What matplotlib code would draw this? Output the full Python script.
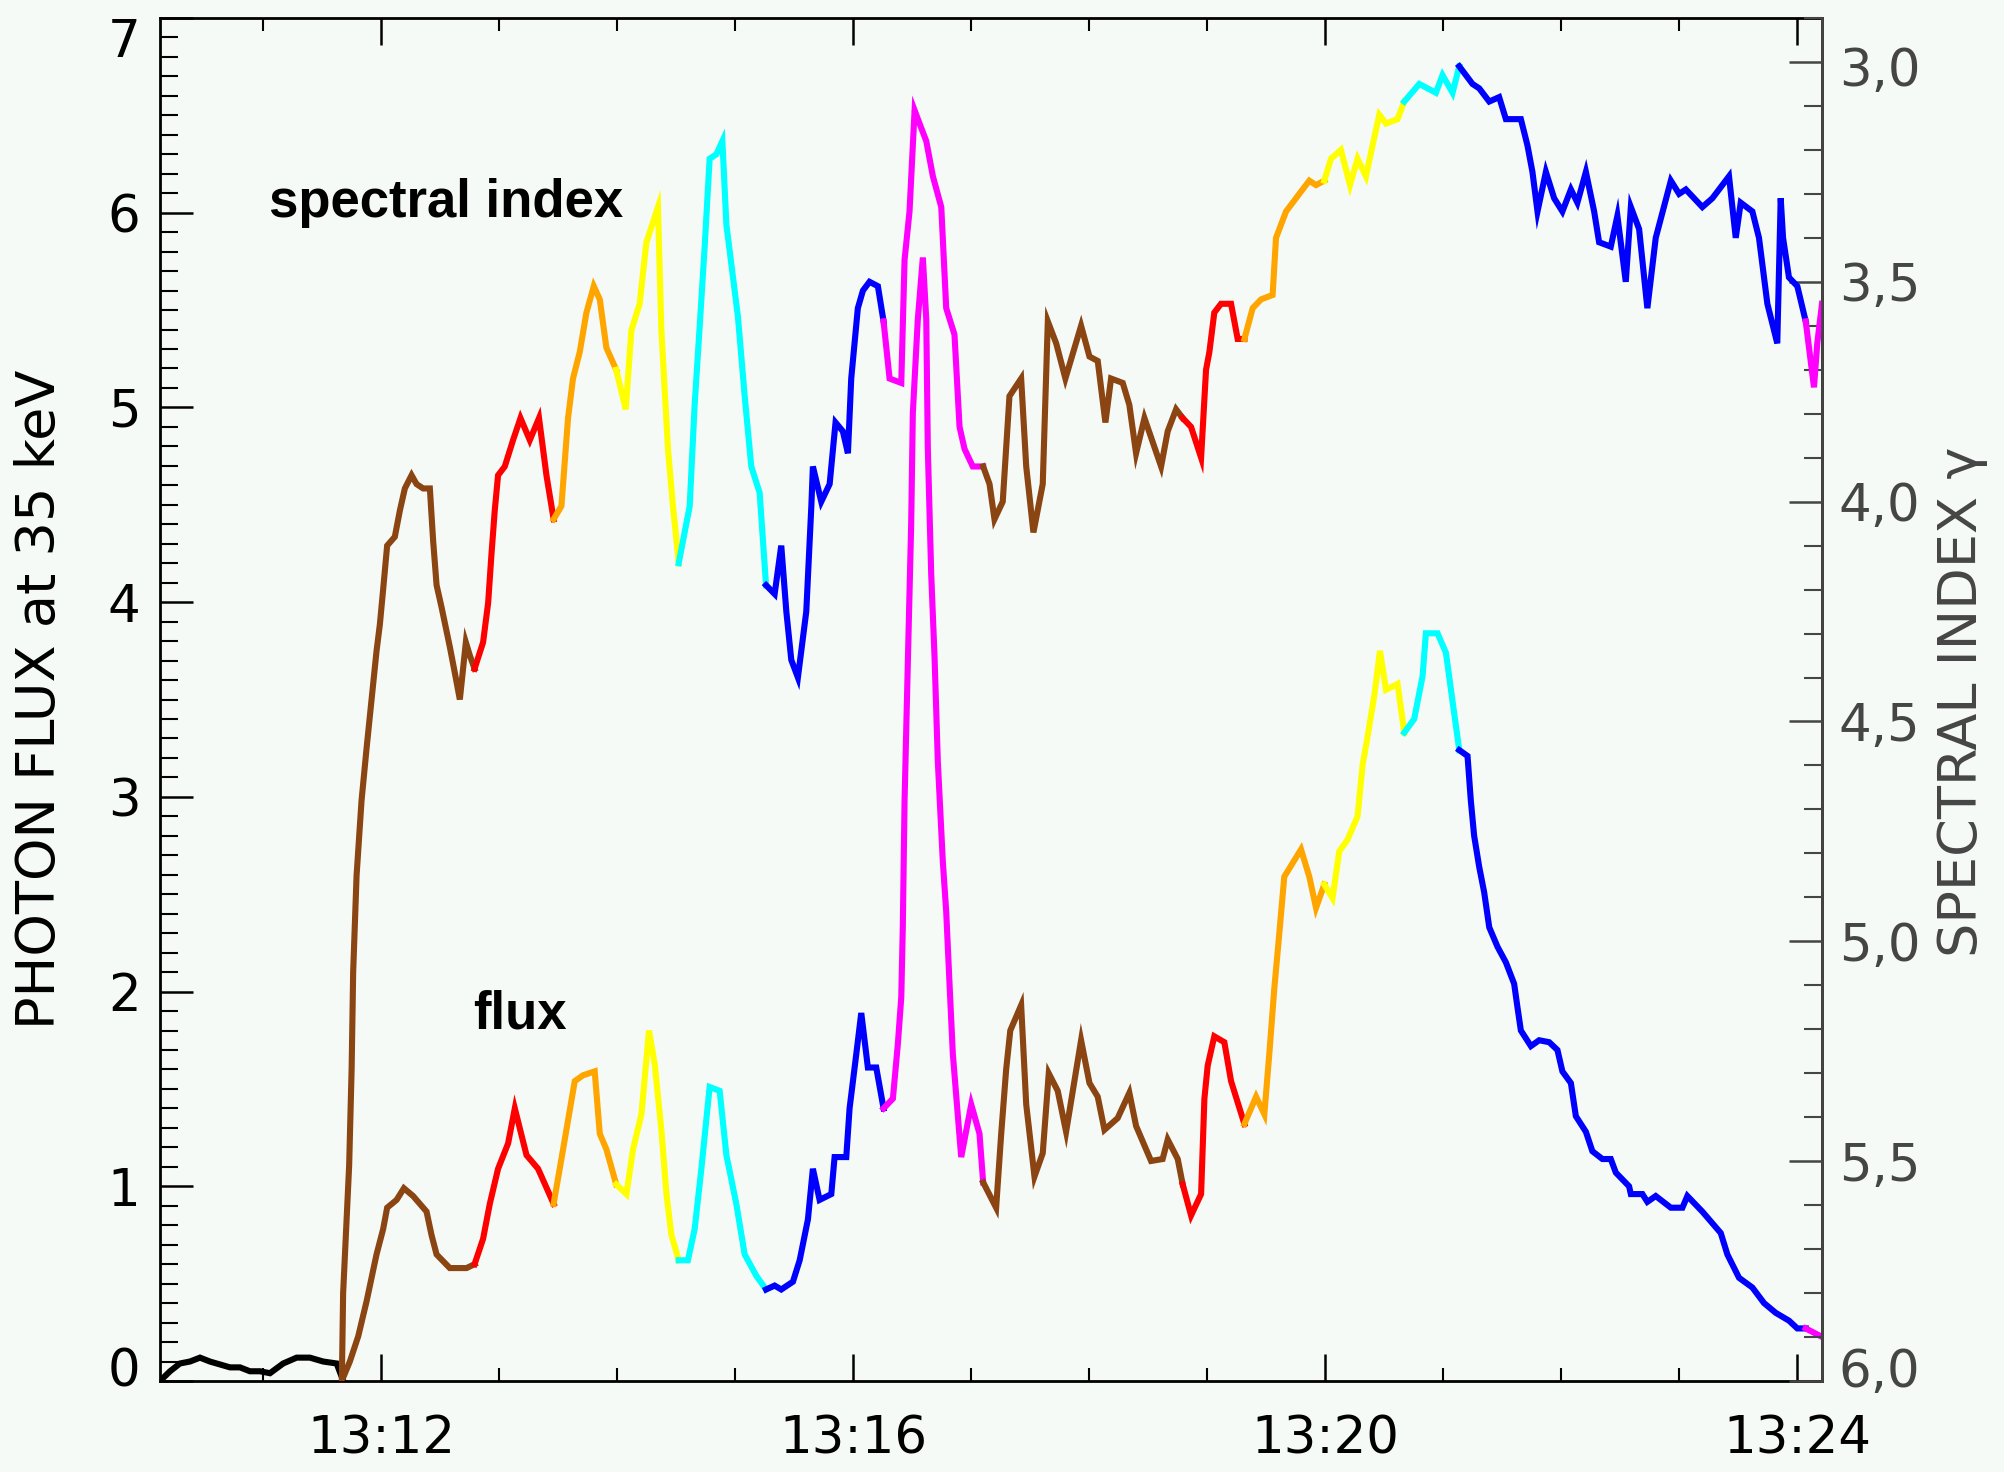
import numpy as np
import matplotlib.pyplot as plt
import matplotlib.transforms as mtransforms
from matplotlib.ticker import MultipleLocator, FuncFormatter

# time axis: minutes after 13:00 UT
flux_time = np.array([
    10.124, 10.209, 10.293, 10.378, 10.463, 10.547, 10.717, 10.802, 10.886, 10.971,
    11.056, 11.168, 11.282, 11.394, 11.507, 11.621, 11.671, 11.733, 11.804, 11.875,
    11.959, 12.015, 12.049, 12.129, 12.191, 12.269, 12.383, 12.425, 12.468, 12.580,
    12.722, 12.790, 12.862, 12.919, 12.989, 13.074, 13.131, 13.230, 13.328, 13.460,
    13.540, 13.639, 13.709, 13.808, 13.851, 13.907, 13.990, 14.077, 14.133, 14.204,
    14.268, 14.316, 14.373, 14.416, 14.458, 14.520, 14.598, 14.655, 14.712, 14.782,
    14.867, 14.924, 15.008, 15.079, 15.178, 15.260, 15.333, 15.389, 15.488, 15.545,
    15.615, 15.657, 15.714, 15.813, 15.841, 15.940, 15.968, 16.025, 16.067, 16.123,
    16.194, 16.256, 16.335, 16.377, 16.406, 16.419, 16.434, 16.448, 16.470, 16.490,
    16.504, 16.546, 16.589, 16.618, 16.631, 16.660, 16.688, 16.716, 16.758, 16.787,
    16.815, 16.843, 16.914, 16.999, 17.069, 17.100, 17.210, 17.253, 17.295, 17.330,
    17.422, 17.465, 17.535, 17.605, 17.656, 17.732, 17.803, 17.930, 18.001, 18.071,
    18.128, 18.240, 18.339, 18.396, 18.523, 18.621, 18.664, 18.749, 18.791, 18.862,
    18.947, 18.975, 19.003, 19.059, 19.144, 19.201, 19.314, 19.413, 19.483, 19.525,
    19.568, 19.610, 19.652, 19.794, 19.864, 19.921, 19.991, 20.061, 20.118, 20.188,
    20.273, 20.315, 20.358, 20.415, 20.463, 20.514, 20.612, 20.669, 20.753, 20.824,
    20.852, 20.951, 21.022, 21.078, 21.135, 21.205, 21.233, 21.261, 21.304, 21.346,
    21.389, 21.459, 21.530, 21.600, 21.628, 21.657, 21.742, 21.812, 21.897, 21.967,
    22.009, 22.081, 22.123, 22.208, 22.263, 22.348, 22.419, 22.462, 22.574, 22.589,
    22.687, 22.729, 22.800, 22.928, 23.026, 23.068, 23.195, 23.351, 23.407, 23.506,
    23.619, 23.718, 23.817, 23.929, 24.000, 24.071, 24.198,
])
flux = np.array([
    0.00, 0.05, 0.09, 0.10, 0.12, 0.10, 0.07, 0.07, 0.05, 0.05,
    0.04, 0.09, 0.12, 0.12, 0.10, 0.09, 0.01, 0.10, 0.23, 0.41,
    0.65, 0.78, 0.89, 0.93, 0.99, 0.95, 0.87, 0.75, 0.65, 0.58,
    0.58, 0.60, 0.73, 0.91, 1.09, 1.22, 1.40, 1.16, 1.09, 0.91,
    1.19, 1.54, 1.57, 1.59, 1.27, 1.19, 1.01, 0.96, 1.19, 1.37,
    1.80, 1.63, 1.29, 0.96, 0.75, 0.62, 0.62, 0.78, 1.09, 1.51,
    1.49, 1.16, 0.91, 0.65, 0.54, 0.47, 0.49, 0.47, 0.51, 0.62,
    0.83, 1.09, 0.93, 0.96, 1.15, 1.15, 1.40, 1.68, 1.89, 1.61,
    1.61, 1.40, 1.45, 1.73, 1.97, 2.33, 2.98, 3.34, 3.90, 4.40,
    4.97, 5.45, 5.77, 5.45, 4.79, 4.14, 3.72, 3.18, 2.67, 2.41,
    2.04, 1.68, 1.15, 1.42, 1.27, 1.02, 0.89, 1.27, 1.60, 1.80,
    1.93, 1.42, 1.05, 1.17, 1.58, 1.49, 1.28, 1.75, 1.53, 1.46,
    1.29, 1.35, 1.48, 1.31, 1.13, 1.14, 1.24, 1.14, 1.01, 0.85,
    0.96, 1.45, 1.62, 1.77, 1.74, 1.54, 1.32, 1.46, 1.37, 1.68,
    2.02, 2.30, 2.59, 2.73, 2.59, 2.43, 2.55, 2.48, 2.72, 2.78,
    2.90, 3.16, 3.31, 3.52, 3.75, 3.55, 3.58, 3.33, 3.40, 3.62,
    3.84, 3.84, 3.74, 3.49, 3.24, 3.21, 2.98, 2.80, 2.64, 2.51,
    2.33, 2.23, 2.15, 2.04, 1.92, 1.80, 1.72, 1.75, 1.74, 1.70,
    1.59, 1.53, 1.36, 1.28, 1.18, 1.14, 1.14, 1.07, 1.00, 0.96,
    0.96, 0.92, 0.95, 0.89, 0.89, 0.95, 0.87, 0.76, 0.65, 0.53,
    0.48, 0.40, 0.35, 0.31, 0.27, 0.27, 0.23,
])

index_time = np.array([
    11.665, 11.676, 11.727, 11.748, 11.761, 11.790, 11.832, 11.875, 11.917, 11.959,
    11.987, 12.015, 12.049, 12.114, 12.157, 12.199, 12.256, 12.298, 12.354, 12.411,
    12.439, 12.468, 12.510, 12.580, 12.623, 12.665, 12.716, 12.750, 12.790, 12.862,
    12.905, 12.933, 12.961, 12.989, 13.046, 13.116, 13.179, 13.258, 13.336, 13.399,
    13.460, 13.526, 13.582, 13.624, 13.681, 13.738, 13.800, 13.851, 13.907, 13.990,
    14.071, 14.119, 14.189, 14.246, 14.344, 14.373, 14.429, 14.471, 14.520, 14.613,
    14.655, 14.698, 14.740, 14.782, 14.839, 14.890, 14.924, 14.966, 15.022, 15.079,
    15.135, 15.206, 15.260, 15.333, 15.389, 15.432, 15.474, 15.530, 15.601, 15.644,
    15.657, 15.728, 15.799, 15.849, 15.911, 15.954, 15.982, 16.038, 16.081, 16.137,
    16.208, 16.256, 16.307, 16.406, 16.434, 16.476, 16.519, 16.561, 16.618, 16.674,
    16.745, 16.787, 16.857, 16.900, 16.942, 17.012, 17.100, 17.154, 17.196, 17.266,
    17.323, 17.422, 17.465, 17.526, 17.605, 17.648, 17.719, 17.797, 17.930, 18.001,
    18.071, 18.136, 18.184, 18.283, 18.339, 18.396, 18.467, 18.608, 18.664, 18.735,
    18.791, 18.862, 18.947, 18.989, 19.017, 19.059, 19.116, 19.201, 19.257, 19.314,
    19.384, 19.455, 19.553, 19.582, 19.667, 19.779, 19.864, 19.921, 19.991, 20.048,
    20.132, 20.209, 20.273, 20.344, 20.400, 20.457, 20.514, 20.612, 20.669, 20.796,
    20.937, 20.993, 21.078, 21.135, 21.247, 21.304, 21.389, 21.473, 21.530, 21.657,
    21.713, 21.755, 21.798, 21.869, 21.939, 22.009, 22.081, 22.136, 22.208, 22.278,
    22.320, 22.419, 22.475, 22.546, 22.589, 22.659, 22.729, 22.800, 22.928, 22.998,
    23.055, 23.195, 23.280, 23.421, 23.478, 23.520, 23.619, 23.675, 23.746, 23.830,
    23.859, 23.879, 23.929, 24.000, 24.071, 24.141, 24.169, 24.209,
])
index = np.array([
    6.00, 5.80, 5.51, 5.29, 5.07, 4.85, 4.68, 4.56, 4.45, 4.34,
    4.28, 4.20, 4.10, 4.08, 4.02, 3.97, 3.94, 3.96, 3.97, 3.97,
    4.09, 4.19, 4.24, 4.33, 4.39, 4.45, 4.32, 4.35, 4.38, 4.32,
    4.23, 4.12, 4.02, 3.94, 3.92, 3.86, 3.81, 3.86, 3.81, 3.94,
    4.04, 4.01, 3.81, 3.72, 3.66, 3.57, 3.51, 3.54, 3.65, 3.70,
    3.79, 3.61, 3.55, 3.41, 3.33, 3.61, 3.88, 4.01, 4.14, 4.01,
    3.78, 3.60, 3.42, 3.22, 3.21, 3.18, 3.37, 3.46, 3.58, 3.76,
    3.92, 3.98, 4.19, 4.21, 4.10, 4.25, 4.36, 4.40, 4.25, 4.01,
    3.92, 4.00, 3.96, 3.82, 3.84, 3.89, 3.72, 3.56, 3.52, 3.50,
    3.51, 3.59, 3.72, 3.73, 3.45, 3.34, 3.11, 3.14, 3.18, 3.26,
    3.33, 3.56, 3.62, 3.83, 3.88, 3.92, 3.92, 3.96, 4.04, 4.00,
    3.76, 3.72, 3.92, 4.07, 3.96, 3.59, 3.64, 3.72, 3.60, 3.67,
    3.68, 3.82, 3.72, 3.73, 3.78, 3.89, 3.81, 3.92, 3.84, 3.79,
    3.81, 3.83, 3.90, 3.70, 3.66, 3.57, 3.55, 3.55, 3.63, 3.63,
    3.56, 3.54, 3.53, 3.40, 3.34, 3.30, 3.27, 3.28, 3.27, 3.22,
    3.20, 3.28, 3.22, 3.26, 3.19, 3.12, 3.14, 3.13, 3.09, 3.05,
    3.07, 3.03, 3.07, 3.01, 3.05, 3.06, 3.09, 3.08, 3.13, 3.13,
    3.19, 3.25, 3.34, 3.25, 3.31, 3.34, 3.29, 3.32, 3.25, 3.34,
    3.41, 3.42, 3.35, 3.50, 3.33, 3.38, 3.56, 3.40, 3.27, 3.30,
    3.29, 3.33, 3.31, 3.26, 3.40, 3.32, 3.34, 3.40, 3.55, 3.64,
    3.31, 3.40, 3.49, 3.51, 3.59, 3.74, 3.64, 3.55,
])

# colour changes (minutes after 13:00) and the colour of each interval
seg_bounds = [11.665, 12.79, 13.46, 13.99, 14.52, 15.26, 16.256, 17.10,
              18.79, 19.314, 19.991, 20.669, 21.135, 24.071]
seg_colors = ["black", "#8b4513", "red", "#ffa500", "yellow", "cyan", "blue", "magenta",
              "#8b4513", "red", "#ffa500", "yellow", "cyan", "blue", "magenta"]

BG = "#f5faf6"
GREY = "#454545"


def draw_segments(ax, t, y):
    cuts = [0] + [int(np.argmin(np.abs(t - b))) for b in seg_bounds] + [len(t) - 1]
    for k, c in enumerate(seg_colors):
        i0, i1 = cuts[k], cuts[k + 1]
        if i1 <= i0:
            continue
        ax.plot(t[i0:i1 + 1], y[i0:i1 + 1], color=c, lw=4.4, solid_joinstyle="miter")


def nudge_label(axis, value, dy_pt):
    # shift the tick label at `value` vertically (points), IDL keeps edge labels inside
    off = mtransforms.ScaledTranslation(0, dy_pt / 72, fig.dpi_scale_trans)
    for tick, loc in zip(axis.get_major_ticks(), axis.get_majorticklocs()):
        if abs(loc - value) < 1e-6:
            tick.label1.set_transform(tick.label1.get_transform() + off)
            tick.label2.set_transform(tick.label2.get_transform() + off)


fig = plt.figure(figsize=(20.04, 14.72), dpi=100, facecolor=BG)
ax = fig.add_axes([160 / 2004, 1 - 1381 / 1472, 1662 / 2004, 1363 / 1472])
ax.set_facecolor(BG)
ax2 = ax.twinx()

draw_segments(ax, flux_time, flux)
draw_segments(ax2, index_time, index)

ax.set_xlim(10.124, 24.209)
ax.set_ylim(0, 7)
ax2.set_ylim(6.0, 2.9)

ax.xaxis.set_major_locator(MultipleLocator(4))
ax.xaxis.set_minor_locator(MultipleLocator(1))
ax.xaxis.set_major_formatter(FuncFormatter(lambda v, p: f"13:{int(round(v)):02d}"))
ax.yaxis.set_major_locator(MultipleLocator(1))
ax.yaxis.set_minor_locator(MultipleLocator(0.1))
ax2.yaxis.set_major_locator(MultipleLocator(0.5))
ax2.yaxis.set_minor_locator(MultipleLocator(0.1))
ax2.yaxis.set_major_formatter(FuncFormatter(lambda v, p: f"{v:.1f}".replace(".", ",")))

ax.tick_params(axis="y", which="major", direction="in", length=24, width=1.8,
               labelsize=37, pad=14, right=False)
ax.tick_params(axis="y", which="minor", direction="in", length=13, width=1.5, right=False)
ax.tick_params(axis="x", which="major", direction="in", length=19.5, width=1.8,
               labelsize=37, pad=24, top=True)
ax.tick_params(axis="x", which="minor", direction="in", length=9.5, width=1.5, top=True)
ax2.tick_params(axis="y", which="major", direction="in", length=24, width=1.8,
                labelsize=37, pad=12, colors=GREY)
ax2.tick_params(axis="y", which="minor", direction="in", length=13, width=1.5, colors=GREY)

nudge_label(ax.yaxis, 7.0, -14)
nudge_label(ax.yaxis, 0.0, 10)
nudge_label(ax2.yaxis, 6.0, 10)
nudge_label(ax2.yaxis, 3.0, -3)

for s in ax.spines.values():
    s.set_linewidth(2)
for name, s in ax2.spines.items():
    s.set_visible(name == "right")
ax2.spines["right"].set_color(GREY)
ax2.spines["right"].set_linewidth(2)

fig.text(40 / 2004, 0.525, "PHOTON FLUX at 35 keV", rotation=90,
         ha="center", va="center", fontsize=39, color="black")
fig.text(1962 / 2004, 0.523, "SPECTRAL INDEX γ", rotation=90,
         ha="center", va="center", fontsize=39, color=GREY)

ax.text(11.05, 5.98, "spectral index", fontsize=38, fontweight="bold",
        family="Liberation Sans", ha="left", va="baseline")
ax.text(12.78, 1.81, "flux", fontsize=38, fontweight="bold",
        family="Liberation Sans", ha="left", va="baseline")

fig.savefig("out.png", dpi=100, facecolor=BG)
